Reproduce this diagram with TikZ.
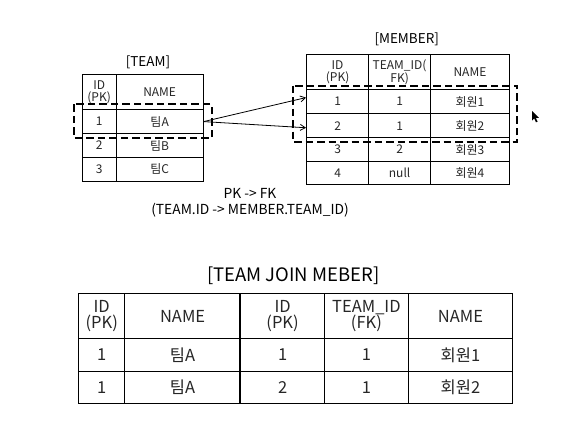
\documentclass[tikz,border=0pt]{standalone}
\usepackage{fontspec}
\setmainfont{Noto Sans CJK KR}
\usetikzlibrary{arrows.meta}

\tikzset{
	cell/.style={draw, line width=0.9pt, anchor=north west, inner sep=0pt,
		align=center, text=black!85},
	small/.style={font=\fontsize{12}{12}\selectfont},
	big/.style={font=\fontsize{16.5}{16}\selectfont},
	pick/.style={draw, dash pattern=on 7.5pt off 4pt, line width=1.9pt},
	fk/.style={-{Straight Barb[length=5pt,width=6pt]}, line width=0.8pt}
}

\begin{document}
\begin{tikzpicture}[x=1pt,y=-1pt]
	\useasboundingbox (0,0) rectangle (580,442);

	% TEAM
	\node[font=\fontsize{13.5}{14}\selectfont] (team-title) at (148,62) {[TEAM]};
	\foreach \y/\h/\id/\nm [count=\r from 0] in {74.3/34.7/{ID\\(PK)}/NAME, 109/24.3/1/팀A, 133.3/23.4/2/팀B, 156.7/24/3/팀C} {
		\node[cell, small, minimum width=34, minimum height=\h] (team-\r-id) at (81.7,\y) {\id};
		\node[cell, small, minimum width=87, minimum height=\h] (team-\r-name) at (115.7,\y) {\nm};
	}
	\draw[pick] (74.3,104.3) rectangle (211.7,138.3);

	% MEMBER
	\node[font=\fontsize{13.5}{14}\selectfont] (mem-title) at (406.7,39) {[MEMBER]};
	\foreach \y/\h/\id/\tid/\nm [count=\r from 0] in {54.3/34.7/{ID\\(PK)}/{TEAM\_ID(\\FK)}/NAME, 89/24.3/1/1/회원1, 113.3/24/2/1/회원2, 137.3/23.7/3/2/회원3, 161/23.3/4/null/회원4} {
		\node[cell, small, minimum width=62.3, minimum height=\h] (mem-\r-id) at (306,\y) {\id};
		\node[cell, small, minimum width=61.7, minimum height=\h] (mem-\r-tid) at (368.3,\y) {\tid};
		\node[cell, small, minimum width=79, minimum height=\h] (mem-\r-name) at (430,\y) {\nm};
	}
	\draw[pick] (293.3,85.7) rectangle (517.3,142.3);

	% PK -> FK
	\draw[fk] (team-1-name.east) -- ([yshift=4pt]mem-1-id.west);
	\draw[fk] (team-1-name.east) -- ([yshift=-2pt]mem-2-id.west);
	\node[font=\fontsize{13.8}{16.5}\selectfont, align=center] (rel) at (250,203) {PK -> FK\\(TEAM.ID -> MEMBER.TEAM\_ID)};

	% mouse pointer
	\fill (532,111) -- (532,120.5) -- (534.2,118.5) -- (536,122.3) -- (537.6,121.6) -- (535.8,117.8) -- (538.8,117.8) -- cycle;

	% TEAM JOIN MEMBER
	\node[font=\fontsize{18.5}{18}\selectfont] (join-title) at (293.3,275.5) {[TEAM JOIN MEBER]};
	\foreach \y/\h/\a/\b/\c/\d/\e [count=\r from 0] in {293.3/45/{ID\\(PK)}/NAME/{ID\\(PK)}/{TEAM\_ID\\(FK)}/NAME, 338.3/32.7/1/팀A/1/1/회원1, 371/31.7/1/팀A/2/1/회원2} {
		\node[cell, big, minimum width=46, minimum height=\h] (join-\r-a) at (78.3,\y) {\a};
		\node[cell, big, minimum width=115.7, minimum height=\h] (join-\r-b) at (124.3,\y) {\b};
		\node[cell, big, minimum width=84.3, minimum height=\h] (join-\r-c) at (240,\y) {\c};
		\node[cell, big, minimum width=83.4, minimum height=\h] (join-\r-d) at (324.3,\y) {\d};
		\node[cell, big, minimum width=104.6, minimum height=\h] (join-\r-e) at (407.7,\y) {\e};
	}
	\draw[line width=1.8pt] (join-0-c.north west) -- (join-2-c.south west);
\end{tikzpicture}
\end{document}
